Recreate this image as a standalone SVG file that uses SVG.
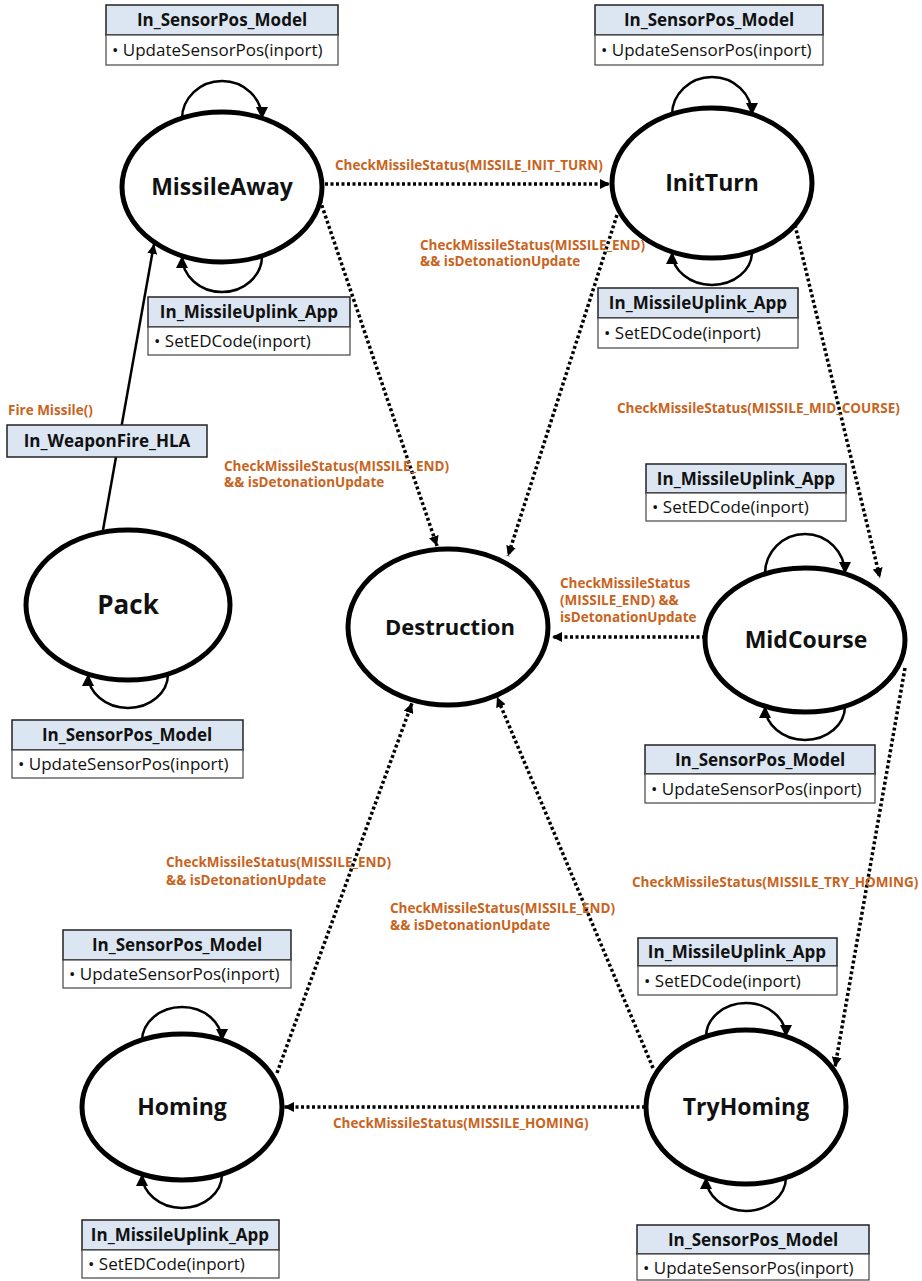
<svg xmlns="http://www.w3.org/2000/svg" width="922" height="1281" viewBox="0 0 922 1281">
  <defs>
    <marker id="head" viewBox="0 0 10 10" refX="10" refY="5" markerWidth="10" markerHeight="10" markerUnits="userSpaceOnUse" orient="auto">
      <path d="M0,0 L10,5 L0,10 Z" fill="#000"/>
    </marker>
    <marker id="loopHead" viewBox="0 0 10 10" refX="10" refY="5" markerWidth="12" markerHeight="12" markerUnits="userSpaceOnUse" orient="auto">
      <path d="M0,0 L10,5 L0,10 Z" fill="#000"/>
    </marker>
    <style>
      .state { fill: #fff; stroke: #000; stroke-width: 5; }
      .stateLabel { font-family: "Open Sans", "Noto Sans", sans-serif; font-weight: bold; font-size: 23px; fill: #111; text-anchor: middle; }
      .loop { fill: none; stroke: #000; stroke-width: 2.5; marker-end: url(#loopHead); }
      .dotted { fill: none; stroke: #000; stroke-width: 3.5; stroke-dasharray: 3 2.5; marker-end: url(#head); }
      .solid { fill: none; stroke: #000; stroke-width: 2.5; marker-end: url(#head); }
      .hdr { fill: #DCE6F2; stroke: #222; stroke-width: 1.5; }
      .body { fill: #fff; stroke: #444; stroke-width: 1.2; }
      .hdrText { font-family: "Open Sans", "Noto Sans", sans-serif; font-weight: bold; font-size: 17px; fill: #111; text-anchor: middle; }
      .bodyText { font-family: "Open Sans", "Noto Sans", sans-serif; font-size: 17px; fill: #111; }
      .cond { font-family: "Open Sans", "Noto Sans", sans-serif; font-weight: bold; font-size: 13.5px; fill: #C8641E; }
    </style>
  </defs>

  <!-- transitions between states -->
  <g id="connectors">
    <path class="solid" d="M103,530 L154,244"/>
    <path class="dotted" d="M325,184 L610,184"/>
    <path class="dotted" d="M320,200 L437,546"/>
    <path class="dotted" d="M617,215 L508,556"/>
    <path class="dotted" d="M795,225 L880,578"/>
    <path class="dotted" d="M705,637 L552,637"/>
    <path class="dotted" d="M905,668 L835,1067"/>
    <path class="dotted" d="M653,1068 L497,697"/>
    <path class="dotted" d="M277,1073 L412,703"/>
    <path class="dotted" d="M645,1107 L284,1107"/>
  </g>

  <!-- transition labels -->
  <g id="labels">
    <text class="cond" x="8" y="415">Fire Missile()</text>
    <text class="cond" x="335" y="170">CheckMissileStatus(MISSILE_INIT_TURN)</text>
    <text class="cond" x="420" y="250">CheckMissileStatus(MISSILE_END)</text>
    <text class="cond" x="420" y="266">&amp;&amp; isDetonationUpdate</text>
    <text class="cond" x="224" y="471">CheckMissileStatus(MISSILE_END)</text>
    <text class="cond" x="224" y="487">&amp;&amp; isDetonationUpdate</text>
    <text class="cond" x="617" y="413">CheckMissileStatus(MISSILE_MID_COURSE)</text>
    <text class="cond" x="560" y="588">CheckMissileStatus</text>
    <text class="cond" x="560" y="605">(MISSILE_END) &amp;&amp;</text>
    <text class="cond" x="560" y="622">isDetonationUpdate</text>
    <text class="cond" x="632" y="887">CheckMissileStatus(MISSILE_TRY_HOMING)</text>
    <text class="cond" x="166" y="867">CheckMissileStatus(MISSILE_END)</text>
    <text class="cond" x="166" y="885">&amp;&amp; isDetonationUpdate</text>
    <text class="cond" x="390" y="913">CheckMissileStatus(MISSILE_END)</text>
    <text class="cond" x="390" y="930">&amp;&amp; isDetonationUpdate</text>
    <text class="cond" x="333" y="1128">CheckMissileStatus(MISSILE_HOMING)</text>
  </g>

  <!-- input port boxes -->
  <g id="port-weaponfire">
    <rect class="hdr" x="7" y="425" width="200" height="32"/>
    <text class="hdrText" x="107" y="447">In_WeaponFire_HLA</text>
  </g>

  <g id="port-missileaway-sensor">
    <rect class="hdr" x="106" y="5" width="232" height="30"/>
    <rect class="body" x="106" y="35" width="232" height="30"/>
    <text class="hdrText" x="222" y="26">In_SensorPos_Model</text>
    <text class="bodyText" x="112" y="56">• UpdateSensorPos(inport)</text>
  </g>
  <g id="port-missileaway-uplink">
    <rect class="hdr" x="148" y="297" width="202" height="30"/>
    <rect class="body" x="148" y="327" width="202" height="28"/>
    <text class="hdrText" x="249" y="318">In_MissileUplink_App</text>
    <text class="bodyText" x="154" y="347">• SetEDCode(inport)</text>
  </g>
  <g id="port-pack-sensor">
    <rect class="hdr" x="12" y="720" width="231" height="30"/>
    <rect class="body" x="12" y="750" width="231" height="28"/>
    <text class="hdrText" x="127" y="741">In_SensorPos_Model</text>
    <text class="bodyText" x="18" y="770">• UpdateSensorPos(inport)</text>
  </g>
  <g id="port-initturn-sensor">
    <rect class="hdr" x="595" y="5" width="228" height="30"/>
    <rect class="body" x="595" y="35" width="228" height="30"/>
    <text class="hdrText" x="709" y="26">In_SensorPos_Model</text>
    <text class="bodyText" x="601" y="56">• UpdateSensorPos(inport)</text>
  </g>
  <g id="port-initturn-uplink">
    <rect class="hdr" x="598" y="288" width="200" height="30"/>
    <rect class="body" x="598" y="318" width="200" height="30"/>
    <text class="hdrText" x="698" y="309">In_MissileUplink_App</text>
    <text class="bodyText" x="604" y="339">• SetEDCode(inport)</text>
  </g>
  <g id="port-midcourse-uplink">
    <rect class="hdr" x="646" y="464" width="200" height="29"/>
    <rect class="body" x="646" y="493" width="200" height="28"/>
    <text class="hdrText" x="746" y="485">In_MissileUplink_App</text>
    <text class="bodyText" x="652" y="513">• SetEDCode(inport)</text>
  </g>
  <g id="port-midcourse-sensor">
    <rect class="hdr" x="645" y="745" width="230" height="29"/>
    <rect class="body" x="645" y="774" width="230" height="29"/>
    <text class="hdrText" x="760" y="766">In_SensorPos_Model</text>
    <text class="bodyText" x="651" y="795">• UpdateSensorPos(inport)</text>
  </g>
  <g id="port-tryhoming-uplink">
    <rect class="hdr" x="638" y="938" width="199" height="28"/>
    <rect class="body" x="638" y="966" width="199" height="29"/>
    <text class="hdrText" x="737" y="958">In_MissileUplink_App</text>
    <text class="bodyText" x="644" y="987">• SetEDCode(inport)</text>
  </g>
  <g id="port-tryhoming-sensor">
    <rect class="hdr" x="637" y="1225" width="232" height="29"/>
    <rect class="body" x="637" y="1254" width="232" height="26"/>
    <text class="hdrText" x="753" y="1246">In_SensorPos_Model</text>
    <text class="bodyText" x="643" y="1274">• UpdateSensorPos(inport)</text>
  </g>
  <g id="port-homing-sensor">
    <rect class="hdr" x="63" y="930" width="228" height="30"/>
    <rect class="body" x="63" y="960" width="228" height="28"/>
    <text class="hdrText" x="177" y="951">In_SensorPos_Model</text>
    <text class="bodyText" x="69" y="980">• UpdateSensorPos(inport)</text>
  </g>
  <g id="port-homing-uplink">
    <rect class="hdr" x="82" y="1220" width="197" height="30"/>
    <rect class="body" x="82" y="1250" width="197" height="28"/>
    <text class="hdrText" x="180" y="1241">In_MissileUplink_App</text>
    <text class="bodyText" x="88" y="1270">• SetEDCode(inport)</text>
  </g>

  <!-- states -->
  <g id="state-missileaway">
    <path class="loop" d="M182,119 A40,38 0 0 1 262,119"/>
    <path class="loop" d="M262,256 A40,36 0 0 1 182,256"/>
    <ellipse class="state" cx="222" cy="187" rx="100" ry="75"/>
    <text class="stateLabel" x="222" y="195">MissileAway</text>
  </g>
  <g id="state-initturn">
    <path class="loop" d="M672,115 A40,38 0 0 1 752,115"/>
    <path class="loop" d="M752,252 A40,33 0 0 1 672,252"/>
    <ellipse class="state" cx="712" cy="183" rx="100" ry="75"/>
    <text class="stateLabel" x="712" y="191">InitTurn</text>
  </g>
  <g id="state-pack">
    <path class="loop" d="M168,674 A40,34 0 0 1 88,674"/>
    <ellipse class="state" cx="128" cy="605" rx="102" ry="75"/>
    <text class="stateLabel" x="128" y="614" style="font-size:26px">Pack</text>
  </g>
  <g id="state-destruction">
    <ellipse class="state" cx="448" cy="627" rx="100" ry="78"/>
    <text class="stateLabel" x="450" y="635" style="font-size:22px">Destruction</text>
  </g>
  <g id="state-midcourse">
    <path class="loop" d="M765,574 A40,40 0 0 1 845,574"/>
    <path class="loop" d="M845,706 A40,34 0 0 1 765,706"/>
    <ellipse class="state" cx="805" cy="640" rx="100" ry="72"/>
    <text class="stateLabel" x="806" y="648">MidCourse</text>
  </g>
  <g id="state-tryhoming">
    <path class="loop" d="M706,1037 A40,34 0 0 1 786,1037"/>
    <path class="loop" d="M786,1177 A40,34 0 0 1 706,1177"/>
    <ellipse class="state" cx="746" cy="1107" rx="100" ry="77"/>
    <text class="stateLabel" x="746" y="1115">TryHoming</text>
  </g>
  <g id="state-homing">
    <path class="loop" d="M142,1041 A40,34 0 0 1 222,1041"/>
    <path class="loop" d="M222,1174 A40,34 0 0 1 142,1174"/>
    <ellipse class="state" cx="182" cy="1107" rx="100" ry="73"/>
    <text class="stateLabel" x="182" y="1115">Homing</text>
  </g>
</svg>
